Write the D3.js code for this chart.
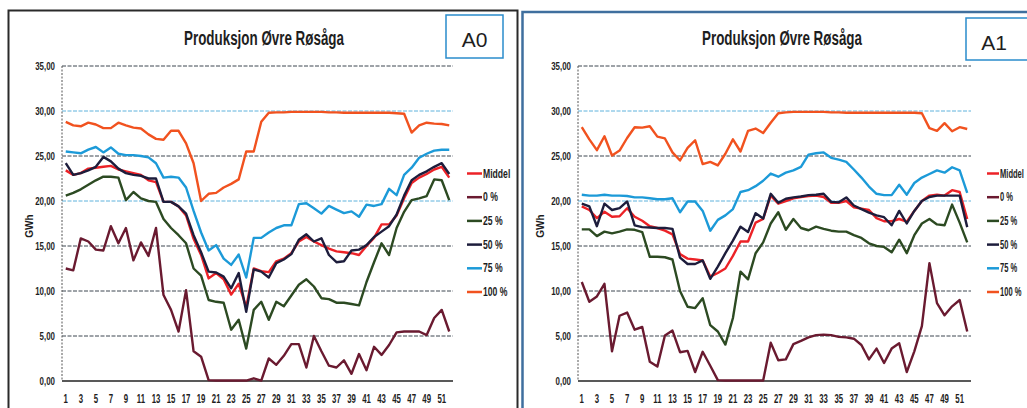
<!DOCTYPE html>
<html>
<head>
<meta charset="utf-8">
<script src="https://cdn.jsdelivr.net/npm/d3@7"></script>
<style>
    body { margin: 0; background: #fff; overflow: hidden; }
    svg { display: block; }
    text { font-family: "Liberation Sans", Arial, sans-serif; fill: #1e1e1e; }
</style>
</head>
<body>
<svg id="chart" width="1027" height="408"></svg>
<script>
// Categories and tick labels
const weeks = d3.range(1, 53);
const xTickLabels = weeks.filter((w) => w % 2 === 1);
const yTicks = [0, 5, 10, 15, 20, 25, 30, 35];
const seriesNames = ["Middel", "0 %", "25 %", "50 %", "75 %", "100 %"];
const seriesColors = ["#ec2227", "#6a1a30", "#2c4a22", "#1d1d3c", "#1c9ad8", "#f1521f"];

// A0 series (GWh per week)
const a0Middel = [23.4, 22.9, 23.1, 23.6, 23.7, 23.8, 23.9, 23.5, 23.3, 23.1,
    22.9, 22.3, 22.1, 19.9, 19.9, 19.4, 18.4, 15.8, 14.0, 11.4,
    12.0, 11.3, 9.6, 10.8, 8.2, 12.5, 12.2, 12.1, 13.3, 13.6,
    14.2, 15.5, 16.0, 15.5, 15.1, 14.7, 14.4, 14.3, 14.2, 14.0,
    15.0, 15.9, 17.4, 17.4, 18.4, 20.3, 22.0, 22.6, 23.0, 23.5,
    23.8, 22.6];
const a0P0 = [12.5, 12.3, 15.85, 15.5, 14.6, 14.5, 17.2, 15.3, 17.0, 13.4,
    15.4, 13.9, 17.0, 9.55, 7.9, 5.5, 10.1, 3.3, 2.7, 0.1,
    0.05, 0.05, 0.05, 0.05, 0.05, 0.3, 0.05, 2.5, 1.8, 2.8,
    4.1, 4.1, 1.5, 5.0, 3.3, 1.7, 1.5, 2.3, 0.8, 3.0,
    1.2, 3.8, 2.9, 4.0, 5.4, 5.5, 5.5, 5.5, 5.1, 7.0,
    7.9, 5.5];
const a0P25 = [20.6, 20.9, 21.3, 21.8, 22.3, 22.7, 22.7, 22.6, 20.1, 21.0,
    20.3, 20.0, 19.9, 18.0, 17.0, 16.2, 15.3, 12.5, 11.7, 9.0,
    8.8, 8.7, 5.7, 6.8, 3.6, 7.9, 8.8, 6.8, 8.8, 8.3,
    9.5, 10.7, 11.3, 10.5, 9.2, 9.1, 8.7, 8.7, 8.55, 8.4,
    11.0, 13.2, 15.3, 14.0, 17.0, 18.8, 20.1, 20.3, 20.55, 22.4,
    22.3, 20.1];
const a0P50 = [24.2, 22.9, 23.1, 23.4, 23.8, 24.9, 24.4, 23.6, 23.1, 22.9,
    22.8, 22.5, 22.5, 19.9, 19.9, 19.4, 18.6, 16.2, 14.3, 12.15,
    12.05, 11.6, 10.3, 12.0, 7.7, 12.4, 12.15, 11.5, 13.1, 13.5,
    14.1, 15.7, 16.3, 15.5, 15.85, 14.0, 13.2, 13.3, 14.5, 14.6,
    15.1, 16.0, 16.6, 17.2, 18.5, 20.6, 22.3, 22.9, 23.3, 23.8,
    24.2, 23.0];
const a0P75 = [25.5, 25.4, 25.3, 25.7, 26.0, 25.4, 25.95, 25.25, 25.1, 25.1,
    25.0, 24.85, 24.2, 22.6, 22.7, 22.6, 21.5, 18.9, 16.5, 14.5,
    15.1, 13.6, 12.9, 14.05, 11.5, 15.9, 15.9, 16.5, 17.0, 17.3,
    17.3, 19.65, 19.75, 19.2, 18.6, 19.45, 19.05, 18.65, 18.85, 18.25,
    19.6, 19.45, 19.65, 21.35, 20.65, 22.9, 23.7, 24.8, 25.25, 25.6,
    25.7, 25.7];
const a0P100 = [28.8, 28.4, 28.3, 28.7, 28.5, 28.1, 28.1, 28.7, 28.4, 28.15,
    28.05, 27.4, 26.9, 26.8, 27.8, 27.8, 26.4, 24.2, 20.0, 20.8,
    20.9, 21.5, 21.9, 22.4, 25.5, 25.5, 28.8,
    29.8, 29.85, 29.85, 29.9, 29.9, 29.9, 29.9, 29.9, 29.85, 29.85,
    29.8, 29.8, 29.8, 29.8, 29.8, 29.8, 29.8, 29.75, 29.7,
    27.6, 28.4, 28.7, 28.6, 28.55, 28.4];

// A1 series (GWh per week)
const a1Middel = [19.4, 19.0, 18.1, 18.8, 18.25, 18.3, 19.2, 18.25, 17.8, 17.2,
    17.0, 16.7, 16.3, 14.1, 13.6, 13.5, 13.4, 11.6, 12.0, 12.5,
    13.9, 15.5, 15.5, 17.6, 18.0, 20.6, 19.7, 20.0, 20.3, 20.45,
    20.55, 20.6, 20.45, 19.8, 19.8, 20.0, 19.3, 19.15, 19.0, 18.1,
    17.75, 17.75, 18.0, 17.7, 18.9, 20.0, 20.6, 20.7, 20.6, 21.2,
    21.0, 18.0];
const a1P0 = [11.0, 8.8, 9.4, 10.8, 3.3, 7.25, 7.6, 5.7, 6.0, 2.15,
    1.6, 5.05, 5.6, 3.2, 3.35, 1.0, 3.25, 1.7, 0.1, 0.05,
    0.05, 0.05, 0.05, 0.05, 0.05, 4.25, 2.3, 2.4, 4.1, 4.45,
    4.85, 5.1, 5.15, 5.1, 4.9, 4.85, 4.7, 4.0, 2.4, 3.6,
    2.0, 3.6, 4.2, 1.0, 3.3, 6.1, 13.1, 8.65, 7.3, 8.3,
    9.0, 5.5];
const a1P25 = [16.85, 16.85, 16.1, 16.6, 16.4, 16.6, 16.85, 16.8, 16.55, 13.8,
    13.8, 13.75, 13.5, 10.0, 8.25, 8.1, 9.2, 6.2, 5.5, 4.05,
    7.0, 12.15, 11.3, 14.2, 15.4, 17.5, 18.75, 16.8, 18.0, 17.0,
    16.75, 17.15, 16.9, 16.7, 16.6, 16.6, 16.2, 15.9, 15.3, 15.0,
    14.9, 14.3, 15.7, 14.2, 16.2, 17.5, 18.0, 17.4, 17.3, 19.6,
    17.6, 15.4];
const a1P50 = [19.7, 19.4, 17.2, 19.7, 19.0, 19.2, 19.95, 17.3, 17.1, 17.05,
    17.0, 17.0, 16.9, 13.7, 13.0, 13.0, 13.4, 11.35, 12.7, 14.2,
    15.6, 17.15, 16.55, 18.65, 18.05, 20.8, 19.8, 20.25, 20.4, 20.5,
    20.65, 20.7, 20.8, 19.9, 19.85, 20.4, 19.5, 19.1, 18.7, 18.4,
    18.2, 17.3, 18.9, 17.5, 18.9, 20.0, 20.45, 20.6, 20.6, 20.6,
    20.6, 17.1];
const a1P75 = [20.7, 20.6, 20.6, 20.7, 20.6, 20.6, 20.55, 20.4, 20.4, 20.3,
    20.2, 20.2, 20.3, 18.75, 19.95, 19.95, 18.9, 16.7, 17.9, 18.4,
    19.1, 21.0, 21.2, 21.65, 22.25, 23.05, 22.7, 23.15, 23.4, 23.8,
    25.15, 25.3, 25.4, 24.8, 24.6, 24.35, 23.5, 22.6, 21.6, 20.8,
    20.65, 20.65, 21.8, 20.7, 22.0, 22.6, 23.0, 23.4, 23.15, 23.75,
    23.4, 20.9];
const a1P100 = [28.2, 26.85, 25.65, 27.2, 25.05, 25.6, 27.0, 28.2, 28.15, 28.3,
    27.15, 26.95, 25.4, 24.5, 25.9, 26.75, 24.1, 24.35, 23.95, 25.25,
    26.85, 25.5, 27.8, 28.05, 27.55, 28.7, 29.75,
    29.85, 29.9, 29.9, 29.9, 29.9, 29.9, 29.85, 29.85, 29.8, 29.8,
    29.8, 29.8, 29.8, 29.8, 29.8, 29.8, 29.8, 29.8, 29.75,
    28.1, 27.8, 28.65, 27.75, 28.2, 28.0];

const title = "Produksjon Øvre Røsåga";

const svg = d3.select("#chart");

// Panel frames behind the charts
svg.append("rect")
   .attr("x", 8.5).attr("y", 10.5)
   .attr("width", 509).attr("height", 420)
   .attr("fill", "#fff")
   .attr("stroke", "#2a2a2a").attr("stroke-width", 2);
svg.append("rect")
   .attr("x", 522.5).attr("y", 12)
   .attr("width", 520).attr("height", 420)
   .attr("fill", "#fff")
   .attr("stroke", "#3f6f9e").attr("stroke-width", 2.5);

drawPanel({
    tag: "A0",
    series: [a0Middel, a0P0, a0P25, a0P50, a0P75, a0P100],
    plotLeft: 62, plotRight: 453,
    titleX: 264, tagBox: [446, 15, 57, 43],
    yTitleX: 30, legendX: 467, legendLine: 15, legendScale: 0.72
});

drawPanel({
    tag: "A1",
    series: [a1Middel, a1P0, a1P25, a1P50, a1P75, a1P100],
    plotLeft: 578, plotRight: 971,
    titleX: 782, tagBox: [966, 18, 70, 42],
    yTitleX: 541, legendX: 987, legendLine: 12, legendScale: 0.63
});

// Draws one chart panel
function drawPanel(opts) {
    const top = 66, bottom = 381;
    const g = svg.append("g");

    let x = d3.scaleBand()
              .domain(weeks)
              .range([opts.plotLeft, opts.plotRight]);
    let y = d3.scaleLinear()
              .domain([0, 35])
              .range([bottom, top]);
    const cx = (w) => x(w) + x.bandwidth() / 2;

    // Gridlines
    g.selectAll("line.grid")
     .data(yTicks)
     .enter()
     .append("line")
     .attr("x1", opts.plotLeft).attr("x2", opts.plotRight)
     .attr("y1", (d) => y(d)).attr("y2", (d) => y(d))
     .attr("stroke", (d) => (d === 20 || d === 30) ? "#5fb2dc" : (d === 0 ? "#222" : "#3c4650"))
     .attr("stroke-width", (d) => d === 0 ? 1.3 : 1)
     .attr("stroke-dasharray", (d) => d === 0 ? null : "4,1.5");

    // Vertical axis line
    g.append("line")
     .attr("x1", opts.plotLeft).attr("x2", opts.plotLeft)
     .attr("y1", top).attr("y2", bottom)
     .attr("stroke", "#555")
     .attr("stroke-dasharray", "2,1.5");

    // Y tick labels
    const fmt = (v) => d3.format(".2f")(v).replace(".", ",");
    g.selectAll("text.ylab")
     .data(yTicks)
     .enter()
     .append("text")
     .attr("transform", (d) => `translate(${opts.plotLeft - 7},${y(d) + 4}) scale(0.72,1)`)
     .attr("text-anchor", "end")
     .attr("font-size", 11)
     .attr("font-weight", "bold")
     .text(fmt);

    // X tick labels
    g.selectAll("text.xlab")
     .data(xTickLabels)
     .enter()
     .append("text")
     .attr("transform", (d) => `translate(${cx(d)},403) scale(0.6,1)`)
     .attr("text-anchor", "middle")
     .attr("font-size", 13)
     .attr("font-weight", "bold")
     .text((d) => d);

    // Y axis title
    g.append("text")
     .attr("transform", `translate(${opts.yTitleX + 3},226) rotate(-90)`)
     .attr("text-anchor", "middle")
     .attr("font-size", 10)
     .attr("font-weight", "bold")
     .text("GWh");

    // Series lines
    let line = d3.line()
                 .x((d, i) => cx(weeks[i]))
                 .y((d) => y(d));
    g.selectAll("path.series")
     .data(opts.series)
     .enter()
     .append("path")
     .attr("d", line)
     .attr("fill", "none")
     .attr("stroke", (d, i) => seriesColors[i])
     .attr("stroke-width", 2.4)
     .attr("stroke-linejoin", "round");

    // Legend
    let legend = g.selectAll("g.legend")
                  .data(seriesNames)
                  .enter()
                  .append("g")
                  .attr("transform", (d, i) => `translate(${opts.legendX},${173.5 + i * 23.7})`);
    legend.append("line")
          .attr("x1", 0).attr("x2", opts.legendLine)
          .attr("stroke", (d, i) => seriesColors[i])
          .attr("stroke-width", 2.5);
    legend.append("text")
          .attr("transform", `translate(${opts.legendLine + 1},4) scale(${opts.legendScale},1)`)
          .attr("font-size", 12)
          .attr("font-weight", "bold")
          .text((d) => d);

    // Title
    g.append("text")
     .attr("x", opts.titleX).attr("y", 45)
     .attr("text-anchor", "middle")
     .attr("font-size", 20)
     .attr("font-weight", "bold")
     .attr("textLength", 160)
     .attr("lengthAdjust", "spacingAndGlyphs")
     .text(title);

    // Tag box
    const [bx, by, bw, bh] = opts.tagBox;
    g.append("rect")
     .attr("x", bx).attr("y", by)
     .attr("width", bw).attr("height", bh)
     .attr("fill", "#fff")
     .attr("stroke", "#2a8ccc")
     .attr("stroke-width", 1.5);
    g.append("text")
     .attr("x", opts.tag === "A0" ? bx + bw / 2 : bx + 28)
     .attr("y", by + 32)
     .attr("text-anchor", "middle")
     .attr("font-size", 21)
     .text(opts.tag);
}
</script>
</body>
</html>
